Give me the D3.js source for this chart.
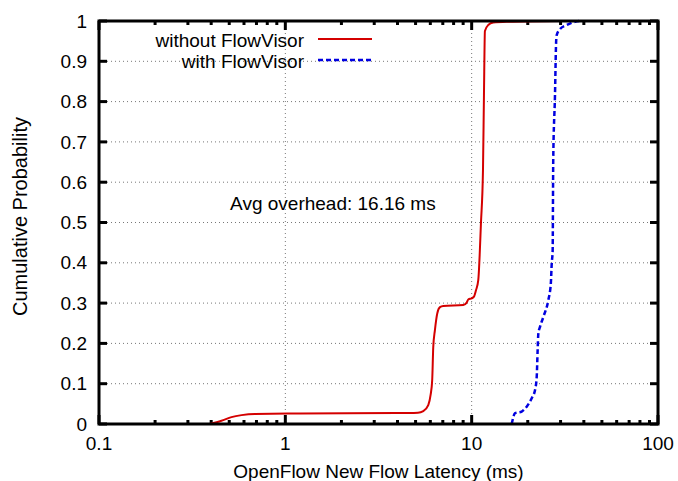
<!DOCTYPE html>
<html>
<head>
<meta charset="utf-8">
<script src="https://cdn.jsdelivr.net/npm/d3@7"></script>
<style>
  body { margin: 0; background: #fff; }
  text { font-family: "Liberation Sans", Arial, sans-serif; fill: #000; }
</style>
</head>
<body>
<div id="chart"></div>
<script>
// latency (ms) / cumulative probability
const withoutX = [0.393, 0.454, 0.514, 0.582, 0.686, 1.2, 3.96, 5.15, 5.5, 5.85, 6.02, 6.14, 6.22, 6.35, 6.54, 6.76, 7.04, 9.01, 9.4, 9.59, 10.0, 10.29, 10.55, 10.85, 11.22, 11.5, 11.64, 11.78, 12.27, 13.06, 15.42, 30];
const withoutY = [0, 0.008, 0.017, 0.022, 0.025, 0.026, 0.027, 0.028, 0.032, 0.047, 0.072, 0.109, 0.19, 0.233, 0.275, 0.29, 0.293, 0.295, 0.301, 0.309, 0.312, 0.316, 0.332, 0.357, 0.5, 0.63, 0.816, 0.975, 0.99, 0.996, 0.998, 1];
const withX = [16.4, 17.1, 18.56, 19.74, 21.0, 21.87, 22.34, 22.6, 22.8, 23.27, 24.26, 25.8, 26.6, 26.9, 27.2, 27.4, 28.0, 28.4, 28.6, 29.8, 32.4, 35.9, 38];
const withY = [0, 0.027, 0.031, 0.043, 0.064, 0.084, 0.117, 0.184, 0.225, 0.241, 0.266, 0.308, 0.349, 0.399, 0.428, 0.655, 0.816, 0.949, 0.965, 0.98, 0.99, 0.998, 1];

const xTicks = [0.1, 1, 10, 100];
const yTicks = [0, 0.1, 0.2, 0.3, 0.4, 0.5, 0.6, 0.7, 0.8, 0.9, 1];
const seriesNames = ['without FlowVisor', 'with FlowVisor'];
const noteText = 'Avg overhead: 16.16 ms';

const width = 678, height = 481;
const margin = { top: 21, right: 20, bottom: 57, left: 99 };
const w = width - margin.left - margin.right;
const h = height - margin.top - margin.bottom;

const svg = d3.select('#chart').append('svg')
  .attr('width', width)
  .attr('height', height);

const g = svg.append('g').attr('transform', `translate(${margin.left},${margin.top})`);

const x = d3.scaleLog().domain([0.1, 100]).range([0, w]);
const y = d3.scaleLinear().domain([0, 1]).range([h, 0]);

// dotted grid
g.selectAll('.hgrid')
  .data(yTicks.filter(d => d > 0 && d < 1))
  .enter().append('line')
  .attr('x1', 0).attr('x2', w)
  .attr('y1', d => y(d)).attr('y2', d => y(d))
  .attr('stroke', '#777').attr('stroke-width', 1).attr('stroke-dasharray', '1,3');
g.selectAll('.vgrid')
  .data([1, 10])
  .enter().append('line')
  .attr('x1', d => x(d)).attr('x2', d => x(d))
  .attr('y1', 0).attr('y2', h)
  .attr('stroke', '#777').attr('stroke-width', 1).attr('stroke-dasharray', '1,3');

// minor + major ticks on x (bottom and top)
const minor = [];
[0.1, 1, 10].forEach(dec => { for (let k = 2; k <= 9; k++) minor.push(dec * k); });
const tickStyle = sel => sel.attr('stroke', '#000').attr('stroke-width', 3);
[[h, -1], [0, 1]].forEach(([base, dir]) => {
  g.append('g').selectAll('line').data(minor).enter().append('line')
    .attr('x1', d => x(d)).attr('x2', d => x(d))
    .attr('y1', base).attr('y2', base + dir * 4).call(tickStyle);
  g.append('g').selectAll('line').data(xTicks).enter().append('line')
    .attr('x1', d => x(d)).attr('x2', d => x(d))
    .attr('y1', base).attr('y2', base + dir * 9).call(tickStyle);
});
[[0, 1], [w, -1]].forEach(([base, dir]) => {
  g.append('g').selectAll('line').data(yTicks).enter().append('line')
    .attr('x1', base).attr('x2', base + dir * 8)
    .attr('y1', d => y(d)).attr('y2', d => y(d)).call(tickStyle);
});

// tick labels
g.append('g').selectAll('text').data(yTicks).enter().append('text')
  .attr('x', -12).attr('y', d => y(d))
  .attr('dy', '0.35em')
  .attr('text-anchor', 'end')
  .style('font-size', '19px')
  .text(d => d3.format('')(d));
g.append('g').selectAll('text').data(xTicks).enter().append('text')
  .attr('x', d => x(d)).attr('y', h + 19)
  .attr('dy', '0.35em')
  .attr('text-anchor', 'middle')
  .style('font-size', '19px')
  .text(d => d);

// axis titles
svg.append('text')
  .attr('x', margin.left + w / 2).attr('y', 471)
  .attr('dy', '0.35em')
  .attr('text-anchor', 'middle')
  .style('font-size', '19px')
  .text('OpenFlow New Flow Latency (ms)');
svg.append('text')
  .attr('transform', `translate(20,${margin.top + h / 2 - 6}) rotate(-90)`)
  .attr('dy', '0.35em')
  .attr('text-anchor', 'middle')
  .style('font-size', '20px')
  .text('Cumulative Probability');

// curves
const line = d3.line()
  .x(d => x(d[0]))
  .y(d => y(d[1]))
  .curve(d3.curveMonotoneX);

g.append('path')
  .datum(withoutX.map((v, i) => [v, withoutY[i]]))
  .attr('fill', 'none')
  .attr('stroke', '#d40000')
  .attr('stroke-width', 2)
  .attr('d', line);

g.append('path')
  .datum(withX.map((v, i) => [v, withY[i]]))
  .attr('fill', 'none')
  .attr('stroke', '#0000e0')
  .attr('stroke-width', 2.5)
  .attr('stroke-dasharray', '5,3')
  .attr('d', line);

// frame
g.append('rect')
  .attr('width', w).attr('height', h)
  .attr('fill', 'none')
  .attr('stroke', '#000')
  .attr('stroke-width', 3);

// annotation
g.append('text')
  .attr('x', x(1.8)).attr('y', y(0.548))
  .attr('dy', '0.35em')
  .attr('text-anchor', 'middle')
  .style('font-size', '19px')
  .text(noteText);

// legend
const legend = svg.append('g');
const legendColors = ['#d40000', '#0000e0'];
const legendDash = [null, '5,3'];
seriesNames.forEach((name, i) => {
  const ly = 40 + i * 21;
  legend.append('text')
    .attr('x', 304).attr('y', ly)
    .attr('dy', '0.35em')
    .attr('text-anchor', 'end')
    .style('font-size', '19px')
    .text(name);
  legend.append('line')
    .attr('x1', 318).attr('x2', 372)
    .attr('y1', ly - 1).attr('y2', ly - 1)
    .attr('stroke', legendColors[i])
    .attr('stroke-width', i ? 2.5 : 2)
    .attr('stroke-dasharray', legendDash[i]);
});
</script>
</body>
</html>
